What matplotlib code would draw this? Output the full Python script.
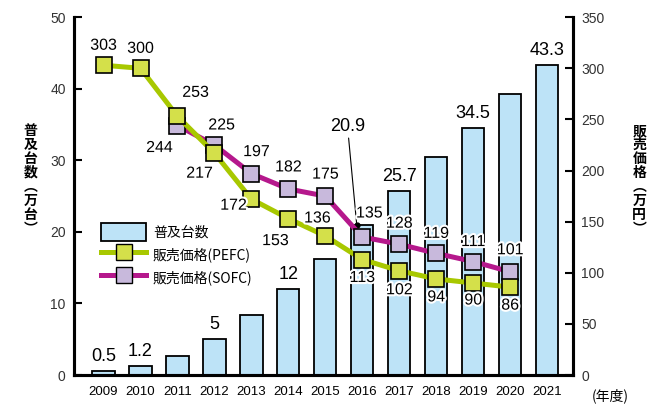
import matplotlib.pyplot as plt
import matplotlib.patheffects as pe
from matplotlib.lines import Line2D
from matplotlib.patches import Patch

plt.rcParams['font.family'] = ['Liberation Sans', 'Noto Sans CJK JP', 'DejaVu Sans']

years = list(range(2009, 2022))
units = [0.5, 1.2, 2.6, 5, 8.4, 12, 16.2, 20.9, 25.7, 30.4, 34.5, 39.3, 43.3]
unit_labels = {2009: "0.5", 2010: "1.2", 2012: "5", 2014: "12", 2017: "25.7", 2019: "34.5", 2021: "43.3"}

pefc_years = list(range(2009, 2021))
pefc = [303, 300, 253, 217, 172, 153, 136, 113, 102, 94, 90, 86]
sofc_years = list(range(2011, 2021))
sofc = [244, 225, 197, 182, 175, 135, 128, 119, 111, 101]

# label offsets in pixels
pefc_off = [(0, 20), (0, 20), (18, 24), (-15, -20), (-18, -6), (-13, -22),
            (-8, 18), (0, -18), (0, -19), (0, -18), (0, -17), (0, -18)]
sofc_off = [(-18, -22), (7, 20), (5, 22), (0, 22), (0, 22), (7, 24),
            (0, 21), (0, 20), (0, 20), (0, 22)]

narrow = ['Liberation Sans Narrow', 'Liberation Sans', 'DejaVu Sans']
halo = [pe.withStroke(linewidth=3, foreground='white')]

fig = plt.figure(figsize=(6.49, 4.09), dpi=100)
ax = fig.add_axes([0.114, 0.083, 0.769, 0.875])
ax2 = ax.twinx()

ax.bar(years, units, width=0.6, color='#bde3f7', edgecolor='black', linewidth=1.3, zorder=2)
ax.set_xlim(2008.2, 2021.7)
ax.set_ylim(0, 50)
ax.set_yticks(range(0, 51, 10))
ax.set_xticks(years)
ax.set_xticklabels([str(y) for y in years], family=narrow, fontsize=9.5)
ax.tick_params(axis='x', length=0, pad=8)
ax.tick_params(axis='y', direction='in', length=6, width=1.5, labelsize=10, labelcolor='#333333', pad=6)

for y, v in zip(years, units):
    if y in unit_labels:
        ax.annotate(unit_labels[y], (y, v), xytext=(0, 6), textcoords='offset pixels',
                    ha='center', va='bottom', fontsize=13, family=narrow, zorder=6)

# 2016 value with leader line
ax.annotate("20.9", xy=(2016 - 0.15, 20.9), xytext=(2015.6, 33.5), ha='center', va='bottom',
            fontsize=13, family=narrow, zorder=6,
            arrowprops=dict(arrowstyle='-', lw=0.8, color='black', shrinkA=0, shrinkB=0))
ax.plot([2016 - 0.15], [20.9], 'o', color='black', markersize=3.5, zorder=7)

ax2.set_ylim(0, 350)
ax2.set_yticks(range(0, 351, 50))
ax2.tick_params(axis='y', direction='in', length=6, width=1.5, labelsize=10, labelcolor='#333333', pad=6)

ax2.plot(sofc_years, sofc, color='#b5188c', linewidth=3.6, marker='s', markersize=11,
         markerfacecolor='#c8b9dc', markeredgecolor='black', markeredgewidth=1.2, zorder=3)
ax2.plot(pefc_years, pefc, color='#a8c800', linewidth=3.6, marker='s', markersize=11,
         markerfacecolor='#d4e04a', markeredgecolor='black', markeredgewidth=1.2, zorder=4)

for x, v, off in zip(pefc_years, pefc, pefc_off):
    ax2.annotate(str(v), (x, v), xytext=off, textcoords='offset pixels', ha='center', va='center',
                 fontsize=11.5, family=narrow, path_effects=halo, zorder=8)
for x, v, off in zip(sofc_years, sofc, sofc_off):
    ax2.annotate(str(v), (x, v), xytext=off, textcoords='offset pixels', ha='center', va='center',
                 fontsize=11.5, family=narrow, path_effects=halo, zorder=8)

for a in (ax, ax2):
    a.spines['top'].set_visible(False)
    for s in ('left', 'right', 'bottom'):
        a.spines[s].set_linewidth(2.2)
ax2.set_zorder(ax.get_zorder() + 1)
ax2.patch.set_visible(False)

# legend
handles = [
    Patch(facecolor='#bde3f7', edgecolor='black', linewidth=1.3, label='普及台数'),
    Line2D([], [], color='#a8c800', linewidth=3.6, marker='s', markersize=11,
           markerfacecolor='#d4e04a', markeredgecolor='black', label='販売価格(PEFC)'),
    Line2D([], [], color='#b5188c', linewidth=3.6, marker='s', markersize=11,
           markerfacecolor='#c8b9dc', markeredgecolor='black', label='販売価格(SOFC)'),
]
leg = ax2.legend(handles=handles, loc='upper left', bbox_to_anchor=(0.03, 0.46), frameon=False,
                 handlelength=3.2, handleheight=1.6, labelspacing=0.35, handletextpad=0.5,
                 prop={'family': ['Noto Sans CJK JP', 'DejaVu Sans'], 'size': 10})

# axis titles, set vertically
jp = ['Noto Sans CJK JP', 'DejaVu Sans']
fig.text(0.047, 0.56, "\n".join("普及台数︵万台︶"), ha='center', va='center',
         fontsize=10, family=jp, linespacing=1.0, fontweight='bold')
fig.text(0.985, 0.56, "\n".join("販売価格︵万円︶"), ha='center', va='center',
         fontsize=10, family=jp, linespacing=1.0, fontweight='bold')
fig.text(0.94, 0.033, "(年度)", ha='center', va='center', fontsize=10, family=jp)

fig.savefig("out.png", dpi=100)
